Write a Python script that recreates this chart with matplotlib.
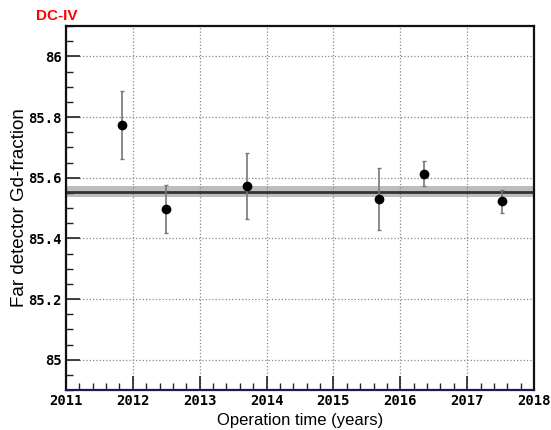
import numpy as np
import matplotlib
matplotlib.use('Agg')
import matplotlib.pyplot as plt
from matplotlib.ticker import MultipleLocator

# measurements
years = [2011.835, 2012.50, 2013.71, 2015.68, 2016.35, 2017.52]
gd_frac = [85.773, 85.497, 85.574, 85.529, 85.613, 85.523]
gd_err = [0.112, 0.080, 0.109, 0.103, 0.042, 0.038]

# average and its uncertainty
mean_val = 85.554
mean_err = 0.018

fig = plt.figure(figsize=(5.51, 4.30), dpi=100)
ax = fig.add_axes([0.1198, 0.093, 0.8494, 0.8465])

ax.axhspan(mean_val - mean_err, mean_val + mean_err, color='#bdbdbd', zorder=1, lw=0)
ax.axhline(mean_val, color='#333333', lw=2, zorder=2)

ax.errorbar(years, gd_frac, yerr=gd_err, fmt='o', color='black', ms=6,
            ecolor='#777777', elinewidth=1.2, capsize=1.5, capthick=1, zorder=3)

ax.set_xlim(2011, 2018)
ax.set_ylim(84.9, 86.1)
ax.xaxis.set_major_locator(MultipleLocator(1))
ax.xaxis.set_minor_locator(MultipleLocator(0.2))
ax.yaxis.set_major_locator(MultipleLocator(0.2))
ax.yaxis.set_minor_locator(MultipleLocator(0.05))
ax.tick_params(which='both', direction='in', top=False, right=False, color='#222222')
ax.tick_params(which='major', length=10, width=1.2, pad=3)
ax.tick_params(which='minor', length=5, width=1)
ax.grid(True, which='major', linestyle=':', color='#888888', lw=0.9)

ax.set_yticks([85, 85.2, 85.4, 85.6, 85.8, 86])
ax.set_yticklabels(['85', '85.2', '85.4', '85.6', '85.8', '86'])
for lab in ax.get_xticklabels() + ax.get_yticklabels():
    lab.set_family('DejaVu Sans Mono')
    lab.set_fontweight('bold')
    lab.set_fontsize(10)

for s in ['left', 'right', 'top']:
    ax.spines[s].set_linewidth(1.6)
    ax.spines[s].set_color('#111111')
ax.spines['bottom'].set_linewidth(1.6)
ax.spines['bottom'].set_color('#1a1a5a')

ax.set_xlabel('Operation time (years)', fontsize=12, family='Liberation Sans')
ax.set_ylabel('Far detector Gd-fraction', fontsize=13.5, family='Liberation Sans')
ax.xaxis.set_label_coords(0.5, -0.063)
ax.yaxis.set_label_coords(-0.081, 0.5)

fig.text(0.065, 0.963, 'DC-IV', color='red', fontsize=11, fontweight='bold',
         family='Liberation Sans', va='center', ha='left')

fig.savefig('out.png', dpi=100)
